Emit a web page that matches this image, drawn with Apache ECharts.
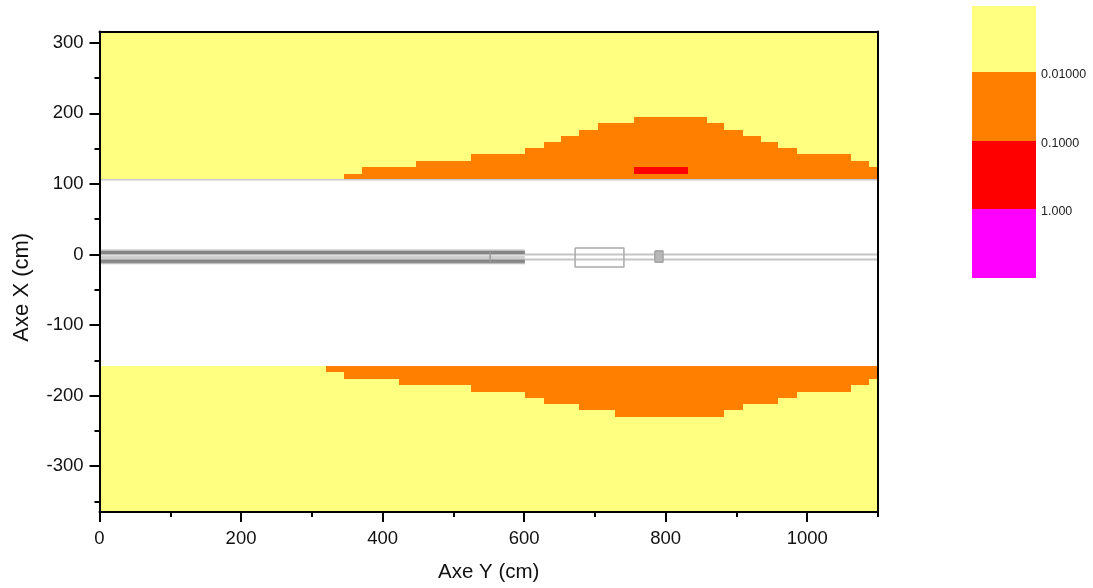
<!DOCTYPE html>
<html><head><meta charset="utf-8">
<style>html,body{margin:0;padding:0;background:#fff}#c{width:1093px;height:588px}</style>
<script src="https://cdn.jsdelivr.net/npm/echarts@6/dist/echarts.min.js"></script>
</head><body><div id="c"></div>
<script>
const xMajor = [0,200,400,600,800,1000];
const xMinor = [100,300,500,700,900,1100];
const yMajor = [-300,-200,-100,0,100,200,300];
const yMinor = [-350,-250,-150,-50,50,150,250];
const xRange = [0,1100];
const yRange = [-365,316];
const bandTop = 107;
const bandBottom = -158;
const upperEdges = [345.5,371,447,525,601,628,652,678,704,755,858,883,909,935,959,985.5,1062,1087,1100];
const upperLevels = [114,124,133,142.5,151,159.5,168,176.5,186.5,195,186.5,176.5,168,159.5,151,142.5,133,124];
const lowerEdges = [320,345.5,423,525,601,628,678,728.5,883,909,959,985.5,1062,1087,1100];
const lowerLevels = [-167,-176.5,-185,-195,-203.5,-212,-220.5,-230.5,-220.5,-212,-203.5,-195,-185,-176.5];
const redCell = [755,831,114,124];
const scaleStops = [0.0011,0.01,0.1,1,10];
const scaleLabels = {'0.01':'0.01000','0.1':'0.1000','1':'1.000'};
const scaleColors = ['#FFFF80','#FF8000','#FF0000','#FF00FF'];
const pipeUpperThick = [[0,2.8],[601,2.8]];
const pipeLowerThick = [[0,-9.5],[601,-9.5]];
const pipeThinA = [[601,0],[1100,0]];
const pipeThinB = [[601,-7],[1100,-7]];
const pipeAxisLine = [[0,-3.5],[601,-3.5]];
const boxLarge = [[672,9.2],[741,9.2],[741,-17.7],[672,-17.7],[672,9.2]];
const boxSmall = [[785,5],[796,5],[796,-10.6],[785,-10.6],[785,5]];
const boxSmallCore = [[790.5,4],[790.5,-9.5]];
const collar = [[552,4],[552,-11]];
const bandEdgeLine = [[0,106],[1100,106]];

function rects(edges, levels, base){
  return levels.map((v,i)=>[edges[i],edges[i+1],base,v]);
}
function renderRect(p, api){
  const a = api.coord([api.value(0), api.value(2)]);
  const b = api.coord([api.value(1), api.value(3)]);
  const x = Math.round(Math.min(a[0],b[0])), x2 = Math.round(Math.max(a[0],b[0]));
  const y = Math.round(Math.min(a[1],b[1])), y2 = Math.round(Math.max(a[1],b[1]));
  return {type:'rect', shape:{x, y, width:x2-x, height:y2-y}, style:{fill:api.visual('color')}};
}
function rectSeries(data,color,z,xi,yi){
  return {type:'custom', renderItem:renderRect, data, z, clip:false, silent:true,
    xAxisIndex:xi||0, yAxisIndex:yi||0, itemStyle:{color},
    encode:{x:[0,1], y:[2,3]}};
}
function pathSeries(data,color,width,z){
  return {type:'line', data, showSymbol:false, silent:true, z, clip:false,
    lineStyle:{color,width}, itemStyle:{color}};
}
const font = 'Liberation Sans';
const black = '#111';
const tickFont = {fontFamily:font,fontSize:18.5,color:black};
const axisLine = {show:true,onZero:false,lineStyle:{color:'#000',width:2}};
const hiddenLine = {show:false,onZero:false};
const none = {show:false};

const option = {
  animation:false,
  backgroundColor:'#fff',
  textStyle:{fontFamily:font},
  grid:[
    {left:99.5,top:31.5,width:778.5,height:480.5,containLabel:false,outerBoundsMode:'none'},
    {left:972,top:6,width:64,height:272,containLabel:false,outerBoundsMode:'none'}
  ],
  xAxis:[
    {type:'value',gridIndex:0,min:xRange[0],max:xRange[1],position:'bottom',z:10,
      name:'Axe Y (cm)',nameLocation:'middle',nameGap:50,
      nameTextStyle:{fontFamily:font,fontSize:20.5,color:black},
      axisLine,splitLine:none,
      axisTick:{show:true,length:10,customValues:xMajor,lineStyle:{color:'#000',width:2}},
      axisLabel:{customValues:xMajor,margin:17,formatter:v=>String(v),...tickFont}},
    {type:'value',gridIndex:0,min:xRange[0],max:xRange[1],position:'bottom',z:10,
      axisLine:hiddenLine,splitLine:none,axisLabel:none,
      axisTick:{show:true,length:5,customValues:xMinor,lineStyle:{color:'#000',width:2}}},
    {type:'value',gridIndex:0,min:xRange[0],max:xRange[1],position:'top',z:10,
      axisLine,splitLine:none,axisLabel:none,axisTick:none},
    {type:'value',gridIndex:1,min:0,max:1,show:false}
  ],
  yAxis:[
    {type:'value',gridIndex:0,min:yRange[0],max:yRange[1],position:'left',z:10,
      name:'Axe X (cm)',nameLocation:'middle',nameGap:67,nameRotate:90,
      nameTextStyle:{fontFamily:font,fontSize:22,color:black,padding:[0,31,0,0]},
      axisLine,splitLine:none,
      axisTick:{show:true,length:10,customValues:yMajor,lineStyle:{color:'#000',width:2}},
      axisLabel:{customValues:yMajor,margin:16,...tickFont}},
    {type:'value',gridIndex:0,min:yRange[0],max:yRange[1],position:'left',z:10,
      axisLine:hiddenLine,splitLine:none,axisLabel:none,
      axisTick:{show:true,length:5,customValues:yMinor,lineStyle:{color:'#000',width:2}}},
    {type:'value',gridIndex:0,min:yRange[0],max:yRange[1],position:'right',z:10,
      axisLine,splitLine:none,axisLabel:none,axisTick:none},
    {type:'log',gridIndex:1,min:scaleStops[0],max:scaleStops[4],inverse:true,position:'right',
      axisLine:none,axisTick:none,splitLine:none,
      axisLabel:{show:true,margin:5,fontFamily:font,fontSize:12.5,color:'#222',verticalAlign:'top',lineHeight:5,
        showMinLabel:true,showMaxLabel:true,
        customValues:[0.01,0.1,1],
        formatter:v=>scaleLabels[String(+(+v).toPrecision(3))]||''}}
  ],
  series:[
    rectSeries([[xRange[0],xRange[1],bandTop,yRange[1]],[xRange[0],xRange[1],yRange[0],bandBottom]],scaleColors[0],2),
    rectSeries(rects(upperEdges,upperLevels,bandTop).concat(rects(lowerEdges,lowerLevels,bandBottom)),scaleColors[1],3),
    rectSeries([redCell],scaleColors[2],4),
    pathSeries(bandEdgeLine,'#c8c8d0',1.5,5),
    pathSeries(pipeUpperThick,'#bdbdbd',6,5),
    pathSeries(pipeLowerThick,'#bdbdbd',6,5),
    pathSeries(pipeUpperThick,'#858585',3,6),
    pathSeries(pipeLowerThick,'#858585',3,6),
    pathSeries(pipeAxisLine,'#d0d0d0',2,5),
    pathSeries(pipeThinA,'#c4c4c4',2,5),
    pathSeries(pipeThinB,'#c4c4c4',2,5),
    pathSeries(boxLarge,'#aaaaaa',1.5,6),
    pathSeries(boxSmall,'#aaaaaa',2,6),
    pathSeries(boxSmallCore,'#b8b8b8',6,5),
    pathSeries(collar,'#999999',1.5,6),
    ...scaleColors.map((c,i)=>rectSeries([[0,1,scaleStops[i],scaleStops[i+1]]],c,2,3,3))
  ]
};
const chart = echarts.init(document.getElementById('c'),null,{renderer:'canvas'});
chart.setOption(option);
</script></body></html>
